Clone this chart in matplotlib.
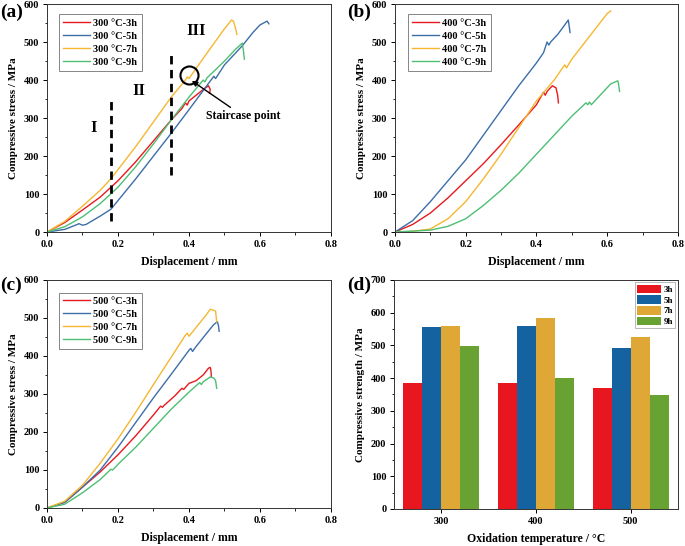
import numpy as np
import matplotlib
matplotlib.use("Agg")
import matplotlib.pyplot as plt
from matplotlib.ticker import MultipleLocator

plt.rcParams['font.family'] = ['Liberation Serif', 'DejaVu Serif']
plt.rcParams['font.weight'] = 'bold'
plt.rcParams['axes.labelweight'] = 'bold'

# ---- Daten ----
# (a) 300 °C
a_3h_x = [0, 0.05, 0.1, 0.15, 0.2, 0.25, 0.3, 0.35, 0.38, 0.39, 0.395, 0.4, 0.42, 0.44, 0.455, 0.46, 0.458]
a_3h_y = [0, 25, 58, 92, 135, 185, 240, 295, 325, 340, 334, 345, 360, 375, 385, 375, 365]
a_5h_x = [0, 0.05, 0.08, 0.09, 0.1, 0.11, 0.15, 0.18, 0.25, 0.3, 0.35, 0.4, 0.45, 0.47, 0.475, 0.5, 0.55, 0.58, 0.6, 0.62, 0.625]
a_5h_y = [0, 7, 18, 22, 18, 20, 42, 60, 140, 200, 260, 322, 385, 410, 404, 440, 490, 525, 545, 555, 548]
a_7h_x = [0, 0.05, 0.1, 0.15, 0.18, 0.25, 0.3, 0.35, 0.39, 0.395, 0.4, 0.45, 0.5, 0.52, 0.525, 0.53, 0.535]
a_7h_y = [0, 28, 68, 110, 140, 225, 290, 355, 400, 408, 404, 470, 535, 558, 555, 540, 520]
a_9h_x = [0, 0.05, 0.1, 0.15, 0.2, 0.25, 0.3, 0.35, 0.4, 0.44, 0.445, 0.45, 0.5, 0.53, 0.55, 0.553, 0.556]
a_9h_y = [0, 14, 40, 75, 118, 172, 232, 295, 355, 400, 395, 405, 450, 480, 497, 480, 455]

# (b) 400 °C
b_3h_x = [0, 0.05, 0.1, 0.15, 0.2, 0.25, 0.3, 0.35, 0.4, 0.415, 0.42, 0.425, 0.43, 0.445, 0.45, 0.455, 0.46, 0.462]
b_3h_y = [0, 20, 50, 90, 135, 180, 230, 282, 335, 360, 368, 360, 370, 385, 382, 380, 360, 340]
b_5h_x = [0, 0.05, 0.1, 0.15, 0.2, 0.25, 0.3, 0.35, 0.4, 0.42, 0.43, 0.435, 0.44, 0.46, 0.48, 0.49, 0.492, 0.495]
b_5h_y = [0, 30, 80, 135, 190, 255, 320, 385, 445, 472, 500, 492, 500, 520, 545, 558, 545, 525]
b_7h_x = [0, 0.05, 0.1, 0.15, 0.2, 0.25, 0.3, 0.35, 0.4, 0.45, 0.48, 0.485, 0.49, 0.5, 0.55, 0.6, 0.61]
b_7h_y = [0, 2, 8, 35, 80, 140, 205, 275, 345, 400, 440, 432, 440, 455, 515, 575, 582]
b_9h_x = [0, 0.1, 0.15, 0.2, 0.25, 0.3, 0.35, 0.4, 0.45, 0.5, 0.54, 0.545, 0.55, 0.555, 0.58, 0.61, 0.63, 0.632, 0.635]
b_9h_y = [0, 5, 15, 35, 70, 110, 155, 205, 255, 305, 340, 335, 342, 335, 360, 390, 398, 390, 370]

# (c) 500 °C
c_3h_x = [0, 0.05, 0.1, 0.15, 0.2, 0.25, 0.3, 0.32, 0.325, 0.33, 0.36, 0.38, 0.385, 0.4, 0.42, 0.44, 0.455, 0.46, 0.462, 0.463]
c_3h_y = [0, 15, 55, 95, 140, 190, 245, 268, 265, 270, 295, 315, 312, 328, 335, 350, 368, 370, 360, 345]
c_5h_x = [0, 0.05, 0.1, 0.15, 0.2, 0.25, 0.3, 0.35, 0.4, 0.405, 0.41, 0.42, 0.45, 0.47, 0.48, 0.483, 0.485]
c_5h_y = [0, 15, 55, 100, 160, 225, 290, 352, 415, 420, 412, 425, 460, 483, 490, 480, 465]
c_7h_x = [0, 0.05, 0.1, 0.15, 0.2, 0.25, 0.3, 0.35, 0.39, 0.395, 0.4, 0.42, 0.45, 0.46, 0.47, 0.475, 0.478]
c_7h_y = [0, 18, 60, 118, 182, 252, 325, 397, 455, 460, 452, 475, 510, 523, 520, 518, 490]
c_9h_x = [0, 0.05, 0.1, 0.15, 0.18, 0.185, 0.2, 0.25, 0.3, 0.35, 0.4, 0.43, 0.435, 0.44, 0.46, 0.47, 0.475, 0.478]
c_9h_y = [0, 10, 40, 75, 102, 100, 115, 160, 210, 260, 305, 330, 325, 332, 345, 342, 335, 315]

# (d) Druckfestigkeit
temps = ["300", "400", "500"]
hours = ["3h", "5h", "7h", "9h"]
strength_3h = [385, 386, 370]
strength_5h = [555, 560, 492]
strength_7h = [560, 584, 525]
strength_9h = [497, 400, 347]

line_colors = ['#e8191f', '#3d6ea8', '#f5b731', '#4dbf74']
bar_colors = ['#e8171f', '#1462a0', '#dfa836', '#68a232']

fig = plt.figure(figsize=(6.85, 5.46), dpi=100)
ax_a = fig.add_axes([0.0686, 0.575, 0.4146, 0.4176])
ax_b = fig.add_axes([0.5766, 0.575, 0.4131, 0.4176])
ax_c = fig.add_axes([0.0686, 0.0696, 0.4146, 0.4176])
ax_d = fig.add_axes([0.5752, 0.0678, 0.4146, 0.4194])


def style_axes(ax):
    ax.tick_params(which='both', direction='out', labelsize=7.5, top=False, right=False)
    ax.tick_params(which='major', length=3, width=0.7, pad=2.5)
    ax.tick_params(which='minor', length=1.8, width=0.6)
    for s in ax.spines.values():
        s.set_linewidth(0.7)
        s.set_color('#333333')
    for lbl in ax.get_xticklabels() + ax.get_yticklabels():
        lbl.set_fontweight('bold')


def curve_panel(ax, curves, temp, leg_anchor):
    for (x, y), h, col in zip(curves, hours, line_colors):
        ax.plot(x, y, color=col, linewidth=1.0, label=temp + " °C-" + h)
    ax.set_xlim(0, 0.8)
    ax.set_ylim(0, 600)
    ax.xaxis.set_major_locator(MultipleLocator(0.2))
    ax.xaxis.set_minor_locator(MultipleLocator(0.1))
    ax.yaxis.set_major_locator(MultipleLocator(100))
    ax.yaxis.set_minor_locator(MultipleLocator(50))
    ax.set_xlabel("Displacement / mm", fontsize=8.5, fontweight='bold', labelpad=5)
    ax.set_ylabel("Compressive stress / MPa", fontsize=8, fontweight='bold', labelpad=4)
    style_axes(ax)
    leg = ax.legend(loc='upper left', bbox_to_anchor=leg_anchor, borderaxespad=0,
                    fancybox=False, edgecolor='#666666', handlelength=2.6,
                    handletextpad=0.3, borderpad=0.4, labelspacing=0.35,
                    prop={'family': 'Liberation Serif', 'weight': 'bold', 'size': 7.5})
    leg.get_frame().set_linewidth(0.7)


curve_panel(ax_a, [(a_3h_x, a_3h_y), (a_5h_x, a_5h_y), (a_7h_x, a_7h_y), (a_9h_x, a_9h_y)],
            "300", (0.042, 0.955))
curve_panel(ax_b, [(b_3h_x, b_3h_y), (b_5h_x, b_5h_y), (b_7h_x, b_7h_y), (b_9h_x, b_9h_y)],
            "400", (0.046, 0.955))
curve_panel(ax_c, [(c_3h_x, c_3h_y), (c_5h_x, c_5h_y), (c_7h_x, c_7h_y), (c_9h_x, c_9h_y)],
            "500", (0.042, 0.945))

# Bereiche I / II / III in (a)
ax_a.plot([0.18, 0.18], [30, 355], color='black', linestyle=(0, (3, 2)), linewidth=2)
ax_a.plot([0.35, 0.35], [150, 475], color='black', linestyle=(0, (3, 2)), linewidth=2)
ax_a.text(0.13, 275, "I", fontsize=12, fontweight='bold', ha='center', va='center')
ax_a.text(0.26, 370, "II", fontsize=12, fontweight='bold', ha='center', va='center')
ax_a.text(0.42, 530, "III", fontsize=12, fontweight='bold', ha='center', va='center')
ax_a.plot([0.4], [412], marker='o', markersize=13, markerfacecolor='none',
          markeredgecolor='black', markeredgewidth=1.5)
ax_a.annotate("Staircase point", xy=(0.408, 398), xytext=(0.448, 305),
              fontsize=8.5, fontweight='bold', va='center',
              arrowprops=dict(arrowstyle='-|>', color='black', lw=1.0, mutation_scale=8,
                              shrinkA=0, shrinkB=0))

# (d) Balken
x = np.arange(1, len(temps) + 1)
w = 0.2
for i, (vals, h) in enumerate(zip([strength_3h, strength_5h, strength_7h, strength_9h], hours)):
    ax_d.bar(x + (i - 1.5) * w, vals, width=w, color=bar_colors[i], label=h)
ax_d.set_xlim(0.5, 3.5)
ax_d.set_ylim(0, 700)
ax_d.set_xticks(x)
ax_d.set_xticklabels(temps)
ax_d.yaxis.set_major_locator(MultipleLocator(100))
ax_d.yaxis.set_minor_locator(MultipleLocator(50))
ax_d.set_xlabel("Oxidation temperature / °C", fontsize=8.5, fontweight='bold', labelpad=5)
ax_d.set_ylabel("Compressive strength / MPa", fontsize=8, fontweight='bold', labelpad=4)
style_axes(ax_d)
leg = ax_d.legend(loc='upper right', bbox_to_anchor=(0.99, 0.99), borderaxespad=0,
                  fancybox=False, edgecolor='#999999', handlelength=2.6, handleheight=1.1,
                  handletextpad=0.3, borderpad=0.25, labelspacing=0.15,
                  prop={'family': 'Liberation Serif', 'weight': 'bold', 'size': 6.5})
leg.get_frame().set_linewidth(0.6)

# Panel-Beschriftungen
fig.text(0.0, 0.978, "(a)", fontsize=14, fontweight='bold', va='center')
fig.text(0.507, 0.978, "(b)", fontsize=14, fontweight='bold', va='center')
fig.text(0.0, 0.477, "(c)", fontsize=14, fontweight='bold', va='center')
fig.text(0.507, 0.477, "(d)", fontsize=14, fontweight='bold', va='center')

fig.savefig("out.png", dpi=100)
